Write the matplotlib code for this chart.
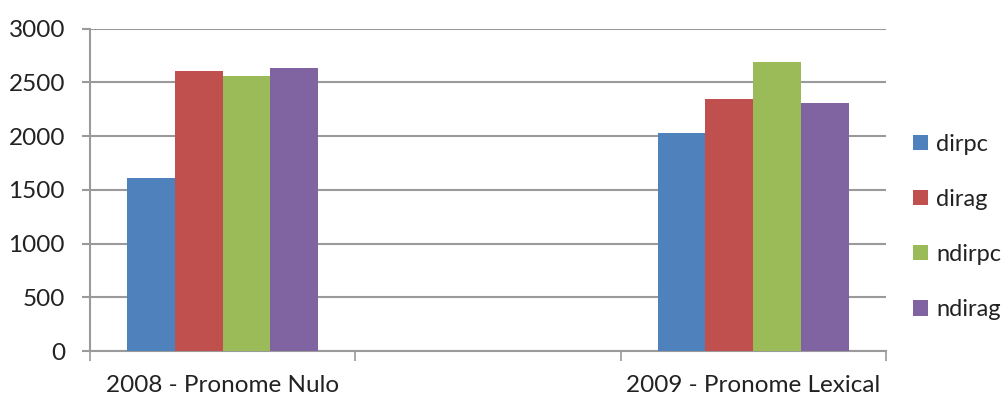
import numpy as np
import matplotlib.pyplot as plt

# dados (categoria do meio vazia, como no Excel)
categorias = ['2008 - Pronome Nulo', '', '2009 - Pronome Lexical']
series = ['dirpc', 'dirag', 'ndirpc', 'ndirag']
dirpc = [1612, np.nan, 2030]
dirag = [2608, np.nan, 2347]
ndirpc = [2561, np.nan, 2691]
ndirag = [2636, np.nan, 2307]
valores = [dirpc, dirag, ndirpc, ndirag]
cores = ['#4F81BD', '#C0504D', '#9BBB59', '#8064A2']

plt.rcParams['font.family'] = ['Lato', 'DejaVu Sans']

fig = plt.figure(figsize=(10.06, 4.03), dpi=100)
ax = fig.add_axes([0.0895, 0.129, 0.791, 0.8])

x = np.arange(len(categorias)) + 0.5
largura = 0.72 / len(series)
for i, (nome, v) in enumerate(zip(series, valores)):
    ax.bar(x + (i - 1.5) * largura, v, largura, color=cores[i], label=nome, zorder=3)

ax.set_xlim(0, 3)
ax.set_ylim(0, 3000)
ax.set_yticks(np.arange(0, 3001, 500))
ax.yaxis.grid(True, color='#9a9a9a', linewidth=1.5, zorder=0)

# marcas nas fronteiras das categorias, rótulos no centro
ax.set_xticks([0, 1, 2, 3])
ax.set_xticklabels([])
ax.set_xticks(x, minor=True)
ax.set_xticklabels(categorias, minor=True, fontsize=17.5, color='#222222')
ax.tick_params(axis='x', which='major', length=7, width=1.2, color='#9a9a9a', direction='out')
ax.tick_params(axis='x', which='minor', length=0, pad=17)
ax.tick_params(axis='y', length=6, width=1.5, color='#9a9a9a', labelsize=17.5,
               labelcolor='#222222', pad=12)

for s in ['top', 'right']:
    ax.spines[s].set_visible(False)
for s in ['left', 'bottom']:
    ax.spines[s].set_color('#9a9a9a')
    ax.spines[s].set_linewidth(1.5)

leg = ax.legend(loc='center left', bbox_to_anchor=(1.017, 0.385), frameon=False, fontsize=17,
                handlelength=0.62, handleheight=0.62, labelspacing=1.45, handletextpad=0.35,
                borderaxespad=0.2)
for t in leg.get_texts():
    t.set_color('#222222')

plt.savefig('out.png', dpi=100)
